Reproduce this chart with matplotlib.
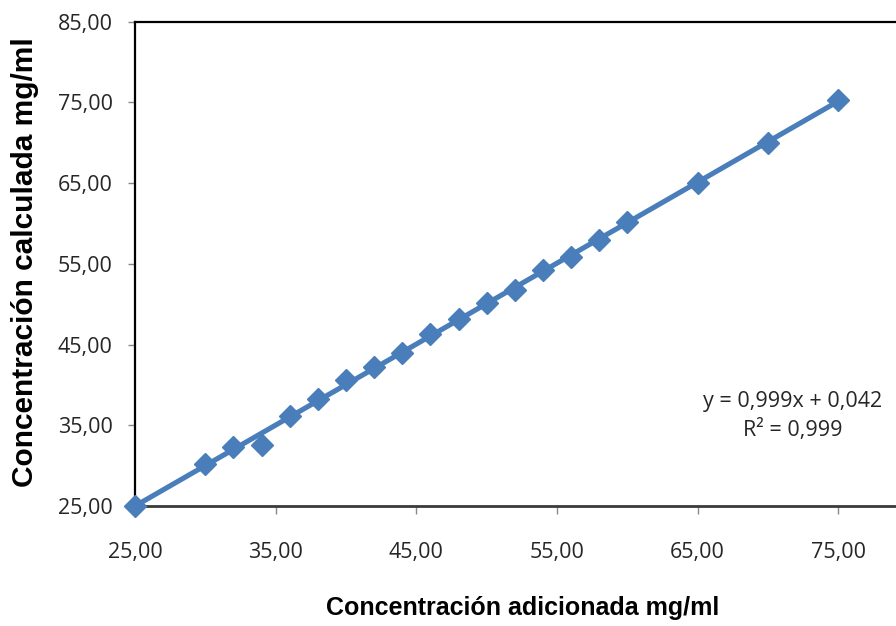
import numpy as np
import matplotlib
matplotlib.use('Agg')
import matplotlib.pyplot as plt

# Data
added = np.array([25, 30, 32, 34, 36, 38, 40, 42, 44, 46, 48, 50, 52, 54, 56, 58, 60, 65, 70, 75])
calculated = np.array([25.0, 30.2, 32.3, 32.5, 36.2, 38.3, 40.6, 42.2, 44.0, 46.3, 48.2, 50.1,
                       51.8, 54.2, 55.9, 58.0, 60.2, 65.0, 70.0, 75.3])
x_ticks = [25, 35, 45, 55, 65, 75]
y_ticks = [25, 35, 45, 55, 65, 75, 85]
eq_text = 'y = 0,999x + 0,042\nR² = 0,999'

blue = '#4A7EBB'

# linear trendline
slope, intercept = np.polyfit(added, calculated, 1)
xfit = np.array([added.min(), added.max()])

fig = plt.figure(figsize=(8.96, 6.26), dpi=100)
ax = fig.add_axes([135 / 896, 1 - 506 / 626, (979 - 135) / 896, (506 - 21.7) / 626])

ax.plot(xfit, slope * xfit + intercept, color=blue, lw=3.7, solid_capstyle='round', zorder=2)
ax.plot(added, calculated, 'D', color=blue, markersize=11, zorder=3, clip_on=False)

ax.set_xlim(25, 85)
ax.set_ylim(25, 85)
ax.set_xticks(x_ticks)
ax.set_yticks(y_ticks)
fmt = lambda v: f'{v:.2f}'.replace('.', ',')
ax.set_xticklabels([fmt(v) for v in x_ticks], fontfamily='Open Sans', fontsize=15.5, color='#262626')
ax.set_yticklabels([fmt(v) for v in y_ticks], fontfamily='Open Sans', fontsize=15.5, color='#262626')
ax.tick_params(axis='x', length=6, width=1, color='#888888', pad=20)
ax.tick_params(axis='y', length=5, width=1, color='#888888', pad=11)

for s in ['left', 'top', 'right']:
    ax.spines[s].set_color('black')
    ax.spines[s].set_linewidth(1.6)
ax.spines['bottom'].set_color('#3a3a3a')
ax.spines['bottom'].set_linewidth(2)

fig.text(523 / 896, 1 - 608 / 626, 'Concentración adicionada mg/ml', ha='center', va='center',
         fontfamily='Liberation Sans', fontweight='bold', fontsize=18)
fig.text(25 / 896, 1 - 262 / 626, 'Concentración calculada mg/ml', ha='center', va='center',
         rotation=90, fontfamily='Liberation Sans', fontweight='bold', fontsize=21.5)

fig.text(793 / 896, 1 - 416 / 626, eq_text, ha='center', va='center', linespacing=1.45,
         fontfamily='Open Sans', fontsize=15.5, color='#262626')

fig.savefig('out.png', dpi=100)
